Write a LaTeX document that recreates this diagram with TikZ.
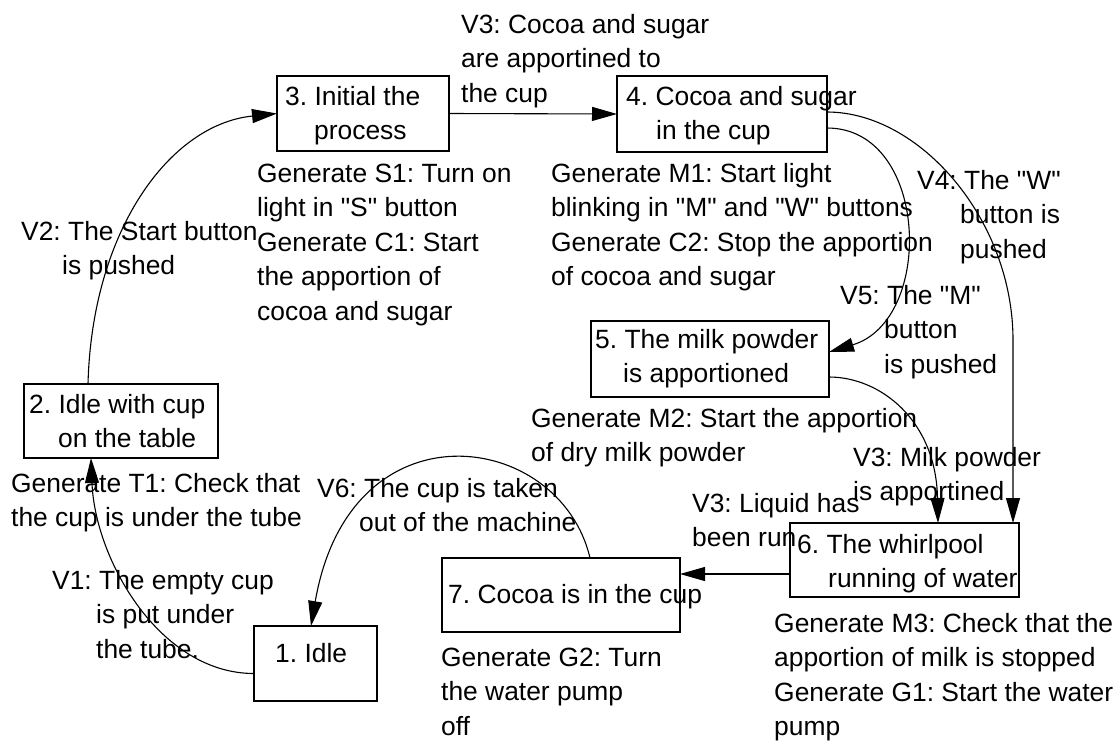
\documentclass[tikz,border=0pt]{standalone}
\usepackage{fontspec}
\setmainfont{Liberation Sans}[Ligatures=TeXOff]
\usetikzlibrary{arrows.meta}
\frenchspacing
\newcommand\mylines[1]{\begin{tabular}[t]{@{}l@{}}#1\end{tabular}}
\begin{document}
\begin{tikzpicture}[x=1pt,y=-1pt,
  stbox/.style={draw, line width=1.1pt, anchor=north west, inner sep=0pt, outer sep=0pt},
  lbl/.style={anchor=base west, inner sep=0pt, font=\fontsize{26.4}{34.5}\selectfont},
  arr/.style={-{Triangle[length=25pt,width=14pt]}, line width=1.1pt}]
\useasboundingbox (0,0) rectangle (1116,740);

% state boxes
\node[stbox, minimum width=123pt, minimum height=75pt] (s1) at (254,626) {};
\node[stbox, minimum width=194pt, minimum height=74pt] (s2) at (24,384) {};
\node[stbox, minimum width=172pt, minimum height=75pt] (s3) at (277,76) {};
\node[stbox, minimum width=210pt, minimum height=76pt] (s4) at (617,76) {};
\node[stbox, minimum width=238pt, minimum height=76pt] (s5) at (591,321) {};
\node[stbox, minimum width=229pt, minimum height=74pt] (s6) at (790,523) {};
\node[stbox, minimum width=238pt, minimum height=74pt] (s7) at (442,558) {};

% state texts
\node[lbl] (t1) at (275,662) {1. Idle};
\node[lbl] (t2) at (29,413) {\mylines{2. Idle with cup\\\hspace{29pt}on the table}};
\node[lbl] (t3) at (285,105) {\mylines{3. Initial the\\\hspace{29pt}process}};
\node[lbl] (t4) at (626,105) {\mylines{4. Cocoa and sugar\\\hspace{30pt}in the cup}};
\node[lbl] (t5) at (595,348) {\mylines{5. The milk powder\\\hspace{28pt}is apportioned}};
\node[lbl] (t6) at (797,553) {\mylines{6. The whirlpool\\\hspace{31pt}running of water}};
\node[lbl] (t7) at (448,603) {7. Cocoa is in the cup};

% actions
\node[lbl] (g2) at (11,492) {\mylines{Generate T1: Check that\\the cup is under the tube}};
\node[lbl] (g3) at (257,182) {\mylines{Generate S1: Turn on\\light in "S" button\\Generate C1: Start\\the apportion of\\cocoa and sugar}};
\node[lbl] (g4) at (551,182) {\mylines{Generate M1: Start light\\blinking in "M" and "W" buttons\\Generate C2: Stop the apportion\\of cocoa and sugar}};
\node[lbl] (g5) at (531,427) {\mylines{Generate M2: Start the apportion\\of dry milk powder}};
\node[lbl] (g6) at (774,632) {\mylines{Generate M3: Check that the\\apportion of milk is stopped\\Generate G1: Start the water\\pump}};
\node[lbl] (g7) at (441,666) {\mylines{Generate G2: Turn\\the water pump\\off}};

% event labels
\node[lbl] (e1) at (52,589) {\mylines{V1: The empty cup\\\hspace{44pt}is put under\\\hspace{44pt}the tube.}};
\node[lbl] (e2) at (21,240) {\mylines{V2: The Start button\\\hspace{41pt}is pushed}};
\node[lbl] (e3) at (461,33) {\mylines{V3: Cocoa and sugar\\are apportined to\\the cup}};
\node[lbl] (e4) at (917,189) {\mylines{V4: The "W"\\\hspace{43pt}button is\\\hspace{43pt}pushed}};
\node[lbl] (e5) at (840,304) {\mylines{V5: The "M"\\\hspace{44pt}button\\\hspace{44pt}is pushed}};
\node[lbl] (e6) at (853,466) {\mylines{V3: Milk powder\\is apportined}};
\node[lbl] (e7) at (692,512) {\mylines{V3: Liquid has\\been run}};
\node[lbl] (e8) at (317,497) {\mylines{V6: The cup is taken\\\hspace{42pt}out of the machine}};

% attachment points
\coordinate (a1w) at ([yshift=-10pt]s1.west);
\coordinate (a1n) at ([xshift=57pt]s1.north west);
\coordinate (a2n) at ([xshift=64pt]s2.north west);
\coordinate (a2s) at ([xshift=67pt]s2.south west);
\coordinate (a4e1) at ([yshift=2pt]s4.east);
\coordinate (a4e2) at ([yshift=-14pt]s4.east);
\coordinate (a5e1) at ([yshift=7pt]s5.east);
\coordinate (a5e2) at ([yshift=-18pt]s5.east);
\coordinate (a6n1) at ([xshift=148pt]s6.north west);
\coordinate (a6n2) at ([xshift=-6pt]s6.north east);
\coordinate (a6w) at ([yshift=-14pt]s6.west);
\coordinate (a7n) at ([xshift=148pt]s7.north west);
\coordinate (v4m) at (1012,340);

% connectors
\draw[arr] (a1w) .. controls +(-94,0) and +(4,102) .. (a2s);
\draw[arr] (a2n) .. controls +(4,-154) and +(-107,11) .. (s3.west);
\draw[arr] (s3.east) -- (s4.west);
\draw[arr] (a4e1) .. controls +(93,0) and +(0,-120) .. (a6n2 |- v4m) -- (a6n2);
\draw[arr] (a4e2) .. controls +(102,0) and +(106,-32) .. (a5e1);
\draw[arr] (a5e2) .. controls +(51,0) and +(-2,-103) .. (a6n1);
\draw[arr] (a6w) -- (a6w -| s7.east);
\draw[arr] (a7n) .. controls +(-30,-128) and +(39,-226) .. (a1n);
\end{tikzpicture}
\end{document}
